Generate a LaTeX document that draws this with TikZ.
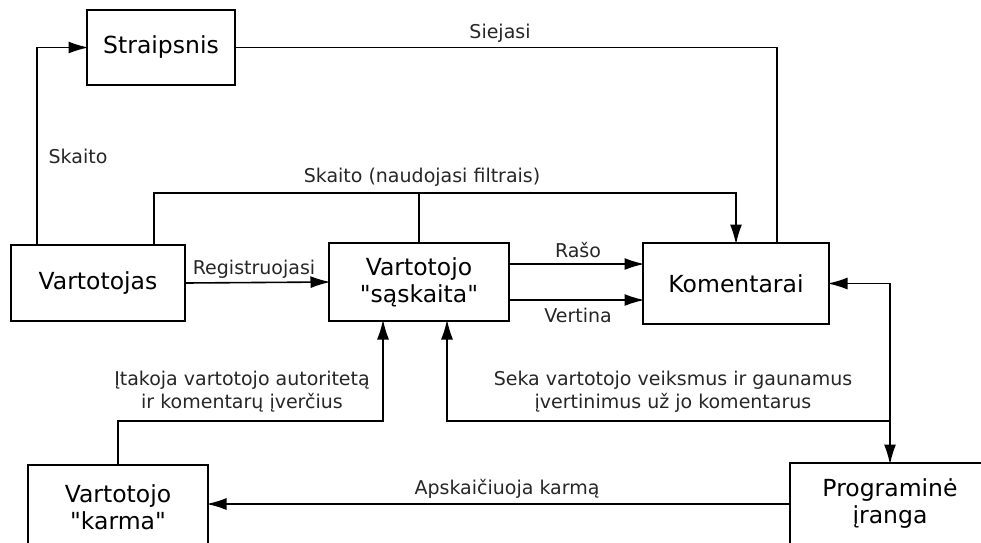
\documentclass[tikz,border=0pt]{standalone}
\usepackage{fontspec}
\setmainfont{DejaVu Sans}[Ligatures=TeXOff]
\usetikzlibrary{arrows.meta}

\begin{document}
\begin{tikzpicture}[x=1pt,y=-1pt,line width=1.6pt,
    box/.style={draw,align=center,outer sep=0pt,font=\fontsize{23.5}{27}\selectfont},
    lbl/.style={align=center,inner sep=0pt,text=black!85,font=\fontsize{19}{23}\selectfont},
    tip/.tip={Latex[length=20pt,width=12pt]},
    arr/.style={-tip,shorten >=-1.5pt}]

    \clip (0,0) rectangle (981,542);

    \node[box,minimum width=148,minimum height=75] (str) at (161,47.5) {Straipsnis};
    \node[box,minimum width=174,minimum height=76] (vart) at (98,283) {Vartotojas};
    \node[box,minimum width=180,minimum height=78] (sask) at (419,282) {Vartotojo\\"sąskaita"};
    \node[box,minimum width=186,minimum height=81] (kom) at (736,283.5) {Komentarai};
    \node[box,minimum width=180,minimum height=84] (karma) at (118,507) {Vartotojo\\"karma"};
    \node[box,minimum width=200,minimum height=82] (prog) at (890,504) {Programinė\\įranga};

    \coordinate (filt) at (419,193);
    \coordinate (itak) at (383,421);
    \coordinate (seka) at (890,421);

    % skaito
    \draw[arr] ([xshift=26]vart.north west) |- (str.west);
    \node[lbl] (skaito) at (78,156) {Skaito};

    % siejasi
    \draw (str.east) -| ([xshift=41]kom.north);
    \node[lbl] (siejasi) at (500,33) {Siejasi};

    % filtrai
    \draw[arr] ([xshift=-31]vart.north east) |- (filt) -| (kom.north);
    \draw (sask.north) -- (filt);
    \node[lbl] (filtrai) at (422,177) {Skaito (naudojasi filtrais)};

    \draw[arr] (vart.east) -- (sask.west);
    \node[lbl] (reg) at (254,269) {Registruojasi};

    \draw[arr] ([yshift=-18]sask.east) -- ([yshift=-18]sask.east -| kom.west);
    \node[lbl] (raso) at (578,250) {Rašo};
    \draw[arr] ([yshift=18]sask.east) -- ([yshift=18]sask.east -| kom.west);
    \node[lbl] (vertina) at (578,315) {Vertina};

    \draw[tip-tip,shorten >=-1.5pt,shorten <=-1.5pt] (kom.east) -| (prog.north);
    \draw[arr] (seka) -| ([xshift=28]sask.south);
    \node[lbl] (sekalbl) at (673,392) {Seka vartotojo veiksmus ir gaunamus\\įvertinimus už jo komentarus};

    \draw[arr] (karma.north) |- (itak) -- (itak |- sask.south);
    \node[lbl] (itaklbl) at (242,392) {Įtakoja vartotojo autoritetą\\ir komentarų įverčius};

    \draw[arr] (prog.west) -- (prog.west -| karma.east);
    \node[lbl] (apsk) at (507,489) {Apskaičiuoja karmą};

\end{tikzpicture}
\end{document}
